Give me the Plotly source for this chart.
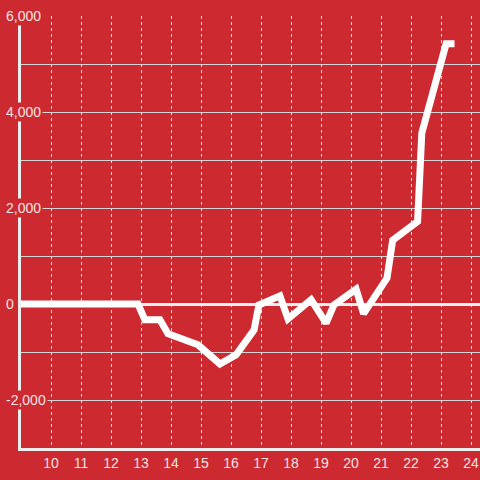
import plotly.graph_objects as go

BG = "#CC2A30"

# line series
x_vals = [9, 12.9, 13.13, 13.63, 13.9, 14.9, 15.63, 16.17, 16.77, 16.93,
          17.63, 17.9, 18.67, 19.17, 19.43, 20.17, 20.42, 21.2, 21.39,
          22.22, 22.36, 23.17, 23.45]
y_vals = [0, 0, -330, -330, -620, -850, -1250, -1060, -540, -20,
          170, -310, 90, -400, -20, 310, -200, 540, 1330,
          1720, 3560, 5420, 5420]

x_ticks = list(range(10, 25))
y_grid = list(range(-3000, 7000, 1000))
y_labels = [6000, 4000, 2000, 0, -2000]

fig = go.Figure(go.Scatter(
    x=x_vals,
    y=y_vals,
    mode="lines",
    line=dict(color="white", width=7),
    hoverinfo="skip",
))

# y labels sit over the axis line with a red backing, like the original
for v in y_labels:
    fig.add_annotation(
        x=-0.037, xref="paper", xanchor="left",
        y=v, yref="y", yanchor="middle",
        text=f"{v:,}",
        showarrow=False,
        bgcolor=BG,
        borderpad=1,
        font=dict(size=14, color="#f2e4e4"),
    )

fig.update_layout(
    width=480,
    height=480,
    paper_bgcolor=BG,
    plot_bgcolor=BG,
    font=dict(family="Liberation Sans, Arial, sans-serif", size=14, color="#f2e4e4"),
    margin=dict(l=21, r=0, t=16, b=32),
    showlegend=False,
    xaxis=dict(
        range=[9, 24.3],
        tickvals=x_ticks,
        showgrid=True,
        gridcolor="#e6e6e6",
        griddash="dot",
        gridwidth=1,
        showline=True,
        linecolor="#eeeeee",
        linewidth=2.5,
        zeroline=False,
        ticks="",
        ticklen=0,
        fixedrange=True,
    ),
    yaxis=dict(
        range=[-3000, 6000],
        tickvals=y_grid,
        showticklabels=False,
        showgrid=True,
        gridcolor="#d4d4d4",
        gridwidth=1,
        showline=True,
        linecolor="#eeeeee",
        linewidth=3,
        zeroline=True,
        zerolinecolor="#f0f0f0",
        zerolinewidth=3,
        ticks="",
        fixedrange=True,
    ),
)

fig.write_html(
    "out.html",
    config={"displayModeBar": False},
    post_script="document.body.style.margin='0';document.body.style.background='" + BG + "';",
)
